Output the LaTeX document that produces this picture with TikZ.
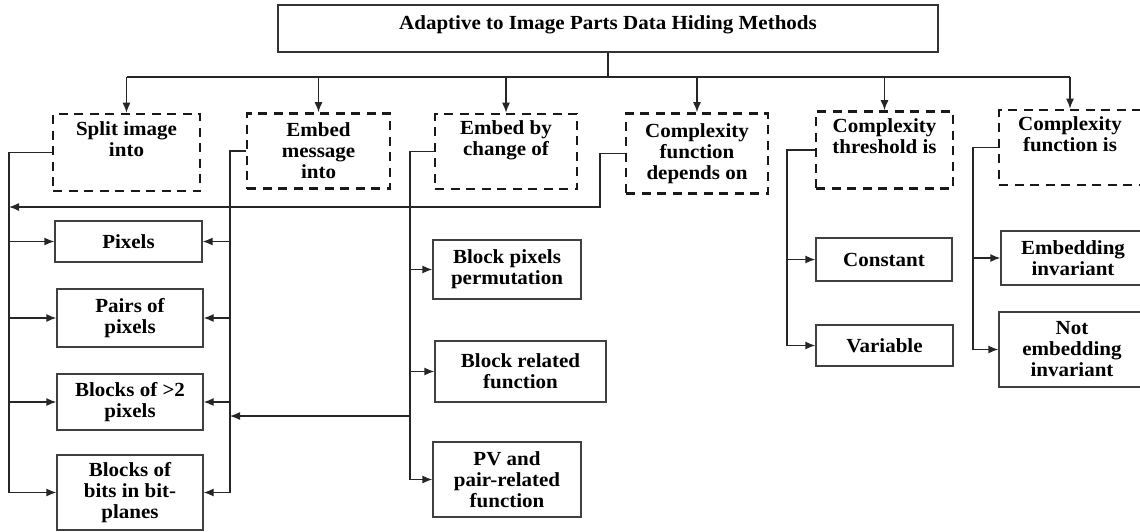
\documentclass[tikz,border=0pt]{standalone}
\usepackage{fontspec}
\setmainfont{Liberation Serif}[FakeStretch=1.05]
\usetikzlibrary{calc}
\usetikzlibrary{positioning}
\usetikzlibrary{arrows.meta}
\tikzstyle{head}=[%
  draw=black!80,
  line width=1.3pt,
  minimum width=660pt,
  minimum height=47pt,
  text height=14pt,
  text depth=12pt
]
\tikzstyle{group}=[%
  draw=black!90,
  line width=2.6pt,
  dash pattern=on 9pt off 6.5pt,
  align=center,
  inner sep=0pt
]
\tikzstyle{leaf}=[%
  draw=black!75,
  line width=1.3pt,
  align=center,
  inner sep=0pt
]
\tikzstyle{link}=[line width=1.3pt, draw=black!85]
\tikzstyle{arr}=[-{Latex[length=10pt,width=8pt]}]

\begin{document}
\begin{tikzpicture}[x=1pt, y=-1pt, font=\fontsize{20}{21}\selectfont\bfseries]
    \useasboundingbox (0,0) rectangle (1140,531);

    \node[head] (root) at (608,28.5) {Adaptive to Image Parts Data Hiding Methods};

    \node[group, minimum width=147pt, minimum height=77pt] (split) at (126.5,152.5) {Split image\\into\\\strut};
    \node[group, minimum width=143pt, minimum height=75pt] (msg) at (318.5,151) {Embed\\message\\into};
    \node[group, minimum width=142pt, minimum height=75pt] (change) at (506,151.5) {Embed by\\change of\\\strut};
    \node[group, minimum width=142pt, minimum height=80pt] (depends) at (697,153.5) {Complexity\\function\\depends on};
    \node[group, minimum width=137pt, minimum height=77pt] (thres) at (884.5,150) {Complexity\\threshold is\\\strut};
    \node[group, minimum width=142pt, minimum height=75pt] (funcis) at (1070,147.5) {Complexity\\function is\\\strut};

    \node[leaf, minimum width=147pt, minimum height=41pt] (pix) at (128.5,241.5) {Pixels};
    \node[leaf, minimum width=146pt, minimum height=58pt] (pairs) at (130,318) {Pairs of\\pixels};
    \node[leaf, minimum width=146pt, minimum height=56pt] (blk2) at (130,402) {Blocks of >2\\pixels};
    \node[leaf, minimum width=146pt, minimum height=75pt] (bits) at (130,492.5) {Blocks of\\bits in bit-\\planes};
    \node[leaf, minimum width=148pt, minimum height=59pt] (perm) at (507,269.5) {Block pixels\\permutation};
    \node[leaf, minimum width=171pt, minimum height=61pt] (relfun) at (520.5,371.5) {Block related\\function};
    \node[leaf, minimum width=148pt, minimum height=75pt] (pv) at (507,479.5) {PV and\\pair-related\\function};
    \node[leaf, minimum width=136pt, minimum height=43pt] (const) at (884,259.5) {Constant};
    \node[leaf, minimum width=137pt, minimum height=41pt] (var) at (884.5,345.5) {Variable};
    \node[leaf, minimum width=144pt, minimum height=54pt] (embinv) at (1073,258) {Embedding\\invariant};
    \node[leaf, minimum width=146pt, minimum height=75pt] (notinv) at (1072,349.5) {Not\\embedding\\invariant};

    \coordinate (bus) at (0,77);
    \coordinate (sbus) at (9,0);
    \coordinate (mbus) at (230,0);
    \coordinate (cbus) at (410,0);
    \coordinate (cross) at (0,416);
    \coordinate (dturn) at (600,207);
    \coordinate (tbus) at (787,0);
    \coordinate (fbus) at (973,0);

    \draw[link] (root.south) -- (root.south |- bus);
    \draw[link] (split.north |- bus) -- (funcis.north |- bus);
    \foreach \g in {split,msg,change,depends,thres,funcis} {%
      \draw[link, arr] (\g.north |- bus) -- (\g.north);
    }

    \draw[link, arr] (split.west) -| (sbus |- bits) -- (bits.west);
    \foreach \n in {pix,pairs,blk2} {%
      \draw[link, arr] (sbus |- \n) -- (\n.west);
    }
    \draw[link, arr] (msg.west) -| (mbus |- bits) -- (bits.east);
    \foreach \n in {pix,pairs,blk2} {%
      \draw[link, arr] (mbus |- \n) -- (\n.east);
    }
    \draw[link, arr] (change.west) -| (cbus |- pv) -- (pv.west);
    \foreach \n in {perm,relfun} {%
      \draw[link, arr] (cbus |- \n) -- (\n.west);
    }
    \draw[link, arr] (cbus |- cross) -- (mbus |- cross);
    \draw[link, arr] (depends.west) -| (dturn) -- (sbus |- dturn);

    \draw[link, arr] (thres.west) -| (tbus |- var) -- (var.west);
    \draw[link, arr] (tbus |- const) -- (const.west);
    \draw[link, arr] (funcis.west) -| (fbus |- notinv) -- (notinv.west);
    \draw[link, arr] (fbus |- embinv) -- (embinv.west);
\end{tikzpicture}
\end{document}
